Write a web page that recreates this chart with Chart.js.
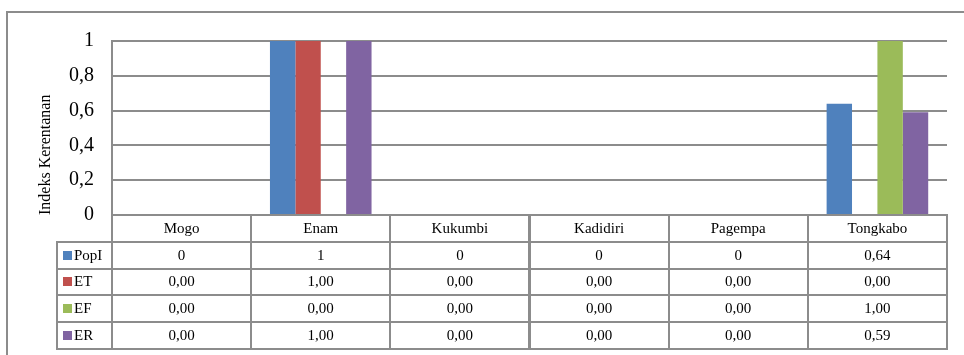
<!DOCTYPE html>
<html><head><meta charset="utf-8">
<script src="https://cdn.jsdelivr.net/npm/chart.js@4/dist/chart.umd.min.js"></script>
<style>
html,body{margin:0;padding:0;background:#fff;}
#wrap{position:relative;width:964px;height:355px;overflow:hidden;background:#fff;}
#frame{position:absolute;left:6px;top:11px;width:1000px;height:400px;border:2px solid #8c8c8c;box-sizing:border-box;}
canvas{position:absolute;left:0;top:0;}
.cell{position:absolute;box-sizing:border-box;border:2px solid #8c8c8c;display:flex;align-items:center;justify-content:center;font-family:'Liberation Serif','Times New Roman',serif;font-size:15px;color:#000;white-space:nowrap;}
.leg{justify-content:flex-start;padding-left:5px;}
.sw{display:inline-block;width:9px;height:9px;margin-right:2px;}
</style>
</head><body>
<div id="wrap">
<div id="frame"></div>
<canvas id="c" width="964" height="355"></canvas>
<div id="tbl"></div>
</div>
<script>
const categories = ['Mogo','Enam','Kukumbi','Kadidiri','Pagempa','Tongkabo'];
const seriesNames = ['PopI','ET','EF','ER'];
const popI = [0, 1, 0, 0, 0, 0.64];
const et = [0, 1, 0, 0, 0, 0];
const ef = [0, 0, 0, 0, 0, 1];
const er = [0, 1, 0, 0, 0, 0.59];
const seriesDecimals = [null, 2, 2, 2];
const yTickLabels = ['0','0,2','0,4','0,6','0,8','1'];
const colors = ['#4F81BD','#C0504D','#9BBB59','#8064A2'];
const seriesValues = [popI, et, ef, er];

function fmt(v, d){
  const s = d === null ? String(v) : v.toFixed(d);
  return s.replace('.', ',');
}

let built = false;
const tablePlugin = {
  id: 'dataTable',
  afterRender(chart){
    if (built) return;
    built = true;
    const xs = chart.scales.x;
    const area = chart.chartArea;
    const cw = xs.width / categories.length;
    const rh = 26.8;
    const top0 = area.bottom;
    const legLeft = 57;
    const tbl = document.getElementById('tbl');
    function cell(x, y, w, h, html, cls){
      const d = document.createElement('div');
      d.className = 'cell' + (cls ? ' ' + cls : '');
      d.style.left = (x - 1) + 'px';
      d.style.top = (y - 1) + 'px';
      d.style.width = (w + 2) + 'px';
      d.style.height = (h + 2) + 'px';
      d.innerHTML = html;
      tbl.appendChild(d);
    }
    categories.forEach((c, i) => {
      const cx = xs.getPixelForValue(i);
      cell(cx - cw/2, top0, cw, rh, c);
    });
    seriesNames.forEach((n, r) => {
      const y = top0 + rh * (r + 1);
      cell(legLeft, y, area.left - legLeft, rh, '<span class="sw" style="background:' + colors[r] + '"></span>' + n, 'leg');
      seriesValues[r].forEach((v, i) => {
        const cx = xs.getPixelForValue(i);
        cell(cx - cw/2, y, cw, rh, fmt(v, seriesDecimals[r]));
      });
    });
  }
};

new Chart(document.getElementById('c'), {
  type: 'bar',
  data: {
    labels: categories,
    datasets: seriesNames.map((n, i) => ({
      label: n,
      data: seriesValues[i],
      backgroundColor: colors[i],
      borderWidth: 0,
      categoryPercentage: 0.73,
      barPercentage: 1.0
    }))
  },
  options: {
    responsive: false,
    animation: false,
    layout: { padding: { left: 0, right: 17, top: 41, bottom: 140 } },
    plugins: { legend: { display: false }, tooltip: { enabled: false } },
    scales: {
      x: { display: false, grid: { display: false } },
      y: {
        min: 0, max: 1,
        ticks: {
          stepSize: 0.2,
          padding: 18,
          color: '#000',
          font: { family: "'Liberation Serif'", size: 20 },
          callback: (v) => yTickLabels[Math.round(v * 5)]
        },
        grid: { color: '#8c8c8c', lineWidth: 2, drawTicks: false },
        border: { display: true, color: '#8c8c8c', width: 2 },
        title: {
          display: true,
          text: 'Indeks Kerentanan',
          align: 'start',
          color: '#000',
          font: { family: "'Liberation Serif'", size: 16 },
          padding: { top: 36, bottom: 0 }
        },
        afterFit: (s) => { s.width = 112; }
      }
    }
  },
  plugins: [tablePlugin]
});
</script>
</body></html>
